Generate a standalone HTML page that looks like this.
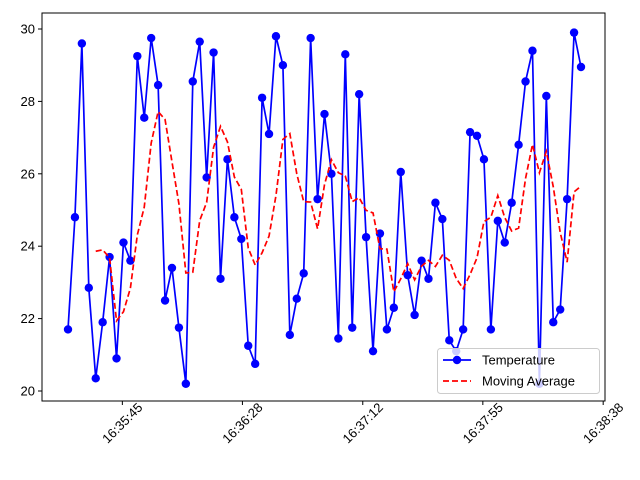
<!DOCTYPE html>
<html><head><meta charset="utf-8"><style>
body{margin:0;background:#fff}
svg{display:block;font-family:"Liberation Sans","DejaVu Sans",sans-serif}
</style></head><body>
<svg id="chart" width="640" height="480" xmlns="http://www.w3.org/2000/svg"></svg>
<script>
const temps=[21.7,24.8,29.6,22.85,20.35,21.9,23.7,20.9,24.1,23.6,29.25,27.55,29.75,28.45,22.5,23.4,21.75,20.2,28.55,29.65,25.9,29.35,23.1,26.4,24.8,24.2,21.25,20.75,28.1,27.1,29.8,29.0,21.55,22.55,23.25,29.75,25.3,27.65,26.0,21.45,29.3,21.75,28.2,24.25,21.1,24.35,21.7,22.3,26.05,23.2,22.1,23.6,23.1,25.2,24.75,21.4,21.1,21.7,27.15,27.05,26.4,21.7,24.7,24.1,25.2,26.8,28.55,29.4,20.2,28.15,21.9,22.25,25.3,29.9,28.95];
const stepSec=2.5;
const windowSize=5;
const xTickSecs=[19.6,62.9,106.3,149.6,193.0];
const xTickLabels=["16:35:45","16:36:28","16:37:12","16:37:55","16:38:38"];
const yTicks=[20,22,24,26,28,30];

const NS="http://www.w3.org/2000/svg";
const svg=document.getElementById('chart');
const L=42,R=605,T=13,B=401;
const tMax=(temps.length-1)*stepSec;
const X=s=>68+(s/tMax)*(581-68);
const Y=v=>391-(v-20)*(391-29)/10;
function el(tag,attrs,parent){const e=document.createElementNS(NS,tag);for(const k in attrs)e.setAttribute(k,attrs[k]);(parent||svg).appendChild(e);return e;}

const ax=el('rect',{x:L,y:T,width:R-L,height:B-T,fill:'none',stroke:'#000','stroke-width':1});



yTicks.forEach(v=>{
 const g=el('g',{});
 
 
 el('line',{x1:L-4,x2:L,y1:Y(v),y2:Y(v),stroke:'#000'},g);
 const t=el('text',{x:L-7,y:Y(v)+4.5,'text-anchor':'end','font-size':13},g);t.textContent=v;
});
xTickSecs.forEach((s,i)=>{
 const g=el('g',{});
 
 
 const x=X(s);
 el('line',{x1:x,x2:x,y1:B,y2:B+4,stroke:'#000'},g);
 const cy=B+22;
 const t=el('text',{x:x,y:cy+4.5,'text-anchor':'middle','font-size':13,transform:`rotate(-45 ${x} ${cy})`},g);t.textContent=xTickLabels[i];
});

const pts=temps.map((v,i)=>[X(i*stepSec),Y(v)]);
const line=el('polyline',{points:pts.map(p=>p.join(',')).join(' '),fill:'none',stroke:'#0000ff','stroke-width':1.7});


pts.forEach((p,i)=>{
 const c=el('circle',{cx:p[0],cy:p[1],r:4.2,fill:'#0000ff'});
 
 
});
const ma=[];
for(let i=windowSize-1;i<temps.length;i++){let s=0;for(let j=i-windowSize+1;j<=i;j++)s+=temps[j];ma.push([X(i*stepSec),Y(s/windowSize)]);}
const mal=el('polyline',{points:ma.map(p=>p.join(',')).join(' '),fill:'none',stroke:'#ff0000','stroke-width':1.7,'stroke-dasharray':'6,3'});



const lg=el('g',{});


el('rect',{x:437.5,y:348.5,width:162,height:45,rx:3,fill:'#fff','fill-opacity':0.8,stroke:'#ccc'},lg);
el('line',{x1:443,x2:471,y1:360,y2:360,stroke:'#0000ff','stroke-width':1.7},lg);
el('circle',{cx:457,cy:360,r:4.2,fill:'#0000ff'},lg);
const t1=el('text',{x:482,y:364.5,'font-size':13},lg);t1.textContent='Temperature';
el('line',{x1:443,x2:471,y1:381,y2:381,stroke:'#ff0000','stroke-width':1.7,'stroke-dasharray':'6,3'},lg);
const t2=el('text',{x:482,y:385.5,'font-size':13},lg);t2.textContent='Moving Average';
</script>
</body></html>
